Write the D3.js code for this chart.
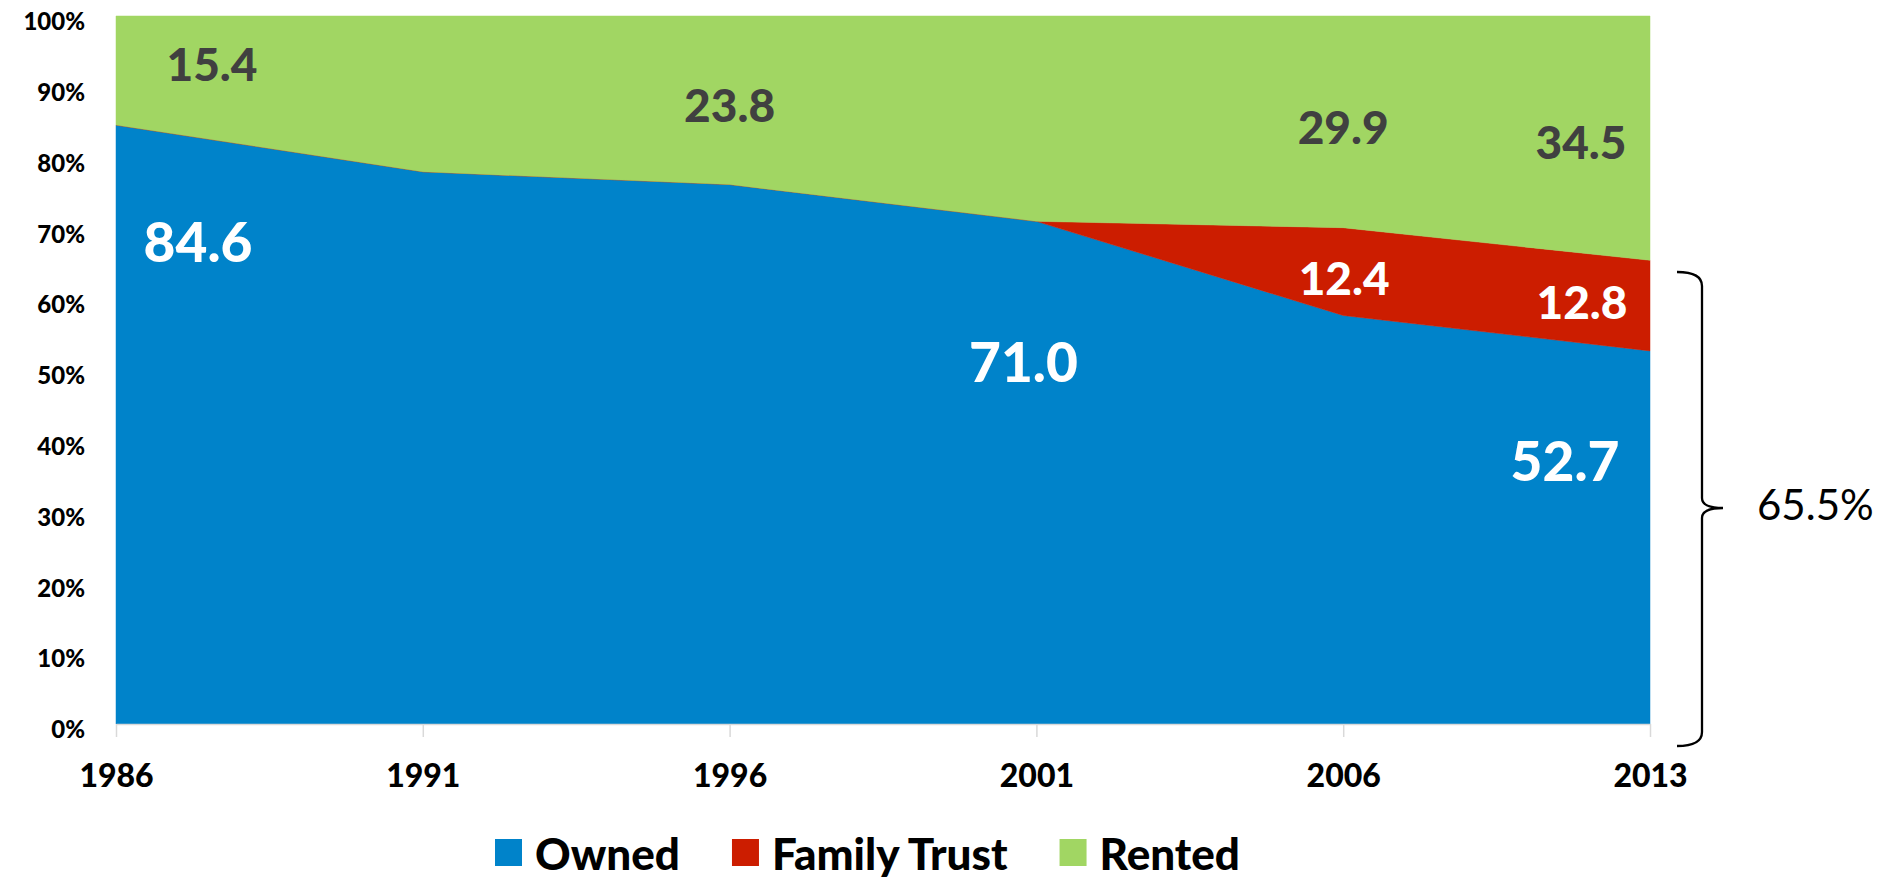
<!DOCTYPE html>
<html>
<head>
<meta charset="utf-8">
<script src="https://cdn.jsdelivr.net/npm/d3@7"></script>
<style>
  html, body { margin: 0; padding: 0; background: #ffffff; }
  svg { display: block; font-family: Lato, "Open Sans", sans-serif; }
</style>
</head>
<body>
<svg id="chart" width="1890" height="878"></svg>
<script>
// ---- Data ----
const categories = ["1986", "1991", "1996", "2001", "2006", "2013"];
const owned      = [84.6, 78.0, 76.2, 71.0, 57.7, 52.7];
const familyTrust= [0, 0, 0, 0, 12.4, 12.8];
const rented     = [15.4, 22.0, 23.8, 29.0, 29.9, 34.5];
const seriesNames = ["Owned", "Family Trust", "Rented"];
const yTicks = [0, 10, 20, 30, 40, 50, 60, 70, 80, 90, 100];
// data labels: [series, category index]
const dataLabels = [
  ["Rented", 0], ["Owned", 0], ["Rented", 2], ["Owned", 3],
  ["Rented", 4], ["Family Trust", 4], ["Rented", 5], ["Family Trust", 5], ["Owned", 5]
];
const bracketText = "65.5%";

// ---- Styles / layout ----
const colors = { "Owned": "#0083CA", "Family Trust": "#CC1D00", "Rented": "#A1D663" };
const labelColor = { "Owned": "#ffffff", "Family Trust": "#ffffff", "Rented": "#404040" };
const labelSize  = { "Owned": 55, "Family Trust": 46, "Rented": 46 };
// label placement: [dx px from category, y as percent level]
const labelPlace = [
  [96, 93.1], [82, 68.1], [0, 87.3], [-13, 51.1],
  [0, 84.2], [1, 63.0], [-69, 82.1], [-68, 59.6], [-85, 37.1]
];

(function () {
const svg = d3.select("#chart");
const pLeft = 116, pRight = 1650, pTop = 16, pBottom = 724;

const x = d3.scalePoint().domain(categories).range([pLeft, pRight]);
const y = d3.scaleLinear().domain([0, 100]).range([pBottom, pTop]);

const rows = categories.map((c, i) => ({
  cat: c, "Owned": owned[i], "Family Trust": familyTrust[i], "Rented": rented[i]
}));
const stacked = d3.stack().keys(seriesNames)(rows);

const area = d3.area()
  .x(d => x(d.data.cat))
  .y0(d => y(d[0]))
  .y1(d => y(d[1]));

svg.append("g").selectAll("path")
  .data(stacked)
  .join("path")
  .attr("d", area)
  .attr("fill", d => colors[d.key])
  .attr("stroke", d => colors[d.key])
  .attr("stroke-width", 0.5);

// X axis
const xAxis = svg.append("g")
  .attr("transform", `translate(0,${pBottom})`)
  .call(d3.axisBottom(x).tickSize(13).tickSizeOuter(0));
xAxis.select(".domain").attr("stroke", "#d9d9d9").attr("stroke-width", 1.5);
xAxis.selectAll(".tick line").attr("stroke", "#d9d9d9").attr("stroke-width", 1.5);
xAxis.selectAll(".tick text")
  .attr("y", 62.5).attr("dy", 0)
  .attr("fill", "#000")
  .style("font-family", "Lato, sans-serif")
  .style("font-weight", 900)
  .style("font-size", "32px");

// Y axis
const yAxis = svg.append("g")
  .attr("transform", `translate(${pLeft},0)`)
  .call(d3.axisLeft(y).tickValues(yTicks).tickSize(0).tickPadding(31).tickFormat(d => d + "%"));
yAxis.select(".domain").remove();
yAxis.selectAll(".tick text")
  .attr("y", 5 + 8.6).attr("dy", 0)
  .attr("fill", "#000")
  .style("font-family", "Lato, sans-serif")
  .style("font-weight", 900)
  .style("font-size", "24px");

// Data labels
const seriesArr = { "Owned": owned, "Family Trust": familyTrust, "Rented": rented };
svg.append("g").selectAll("text")
  .data(dataLabels)
  .join("text")
  .attr("x", (d, i) => x(categories[d[1]]) + labelPlace[i][0])
  .attr("y", (d, i) => y(labelPlace[i][1]) + 0.36 * labelSize[d[0]])
  .attr("text-anchor", "middle")
  .attr("fill", d => labelColor[d[0]])
  .style("font-weight", 900)
  .style("font-size", d => labelSize[d[0]] + "px")
  .text(d => seriesArr[d[0]][d[1]].toFixed(1));

// Bracket annotation
const bx0 = 1677, bx1 = 1702, bTip = 1723, bTop = 272, bBot = 746, bMid = 508;
const bp = d3.path();
bp.moveTo(bx0, bTop);
bp.quadraticCurveTo(bx1, bTop, bx1, bTop + 14);
bp.lineTo(bx1, bMid - 10);
bp.quadraticCurveTo(bx1, bMid, bTip, bMid);
bp.quadraticCurveTo(bx1, bMid, bx1, bMid + 10);
bp.lineTo(bx1, bBot - 14);
bp.quadraticCurveTo(bx1, bBot, bx0, bBot);
svg.append("path")
  .attr("d", bp.toString())
  .attr("fill", "none")
  .attr("stroke", "#000")
  .attr("stroke-width", 2.3);
svg.append("text")
  .attr("x", 1757).attr("y", 505 + 0.36 * 42)
  .attr("fill", "#000")
  .style("font-weight", 400)
  .style("font-size", "42px")
  .text(bracketText);

// Legend
const legend = svg.append("g");
let lx = 495;
seriesNames.forEach(name => {
  legend.append("rect")
    .attr("x", lx).attr("y", 839).attr("width", 27).attr("height", 27)
    .attr("fill", colors[name]);
  const t = legend.append("text")
    .attr("x", lx + 40).attr("y", 870)
    .attr("fill", "#000")
    .style("font-weight", 900)
    .style("font-size", "44px")
    .text(name);
  lx = lx + 40 + t.node().getComputedTextLength() + 52;
});
})();
</script>
</body>
</html>
